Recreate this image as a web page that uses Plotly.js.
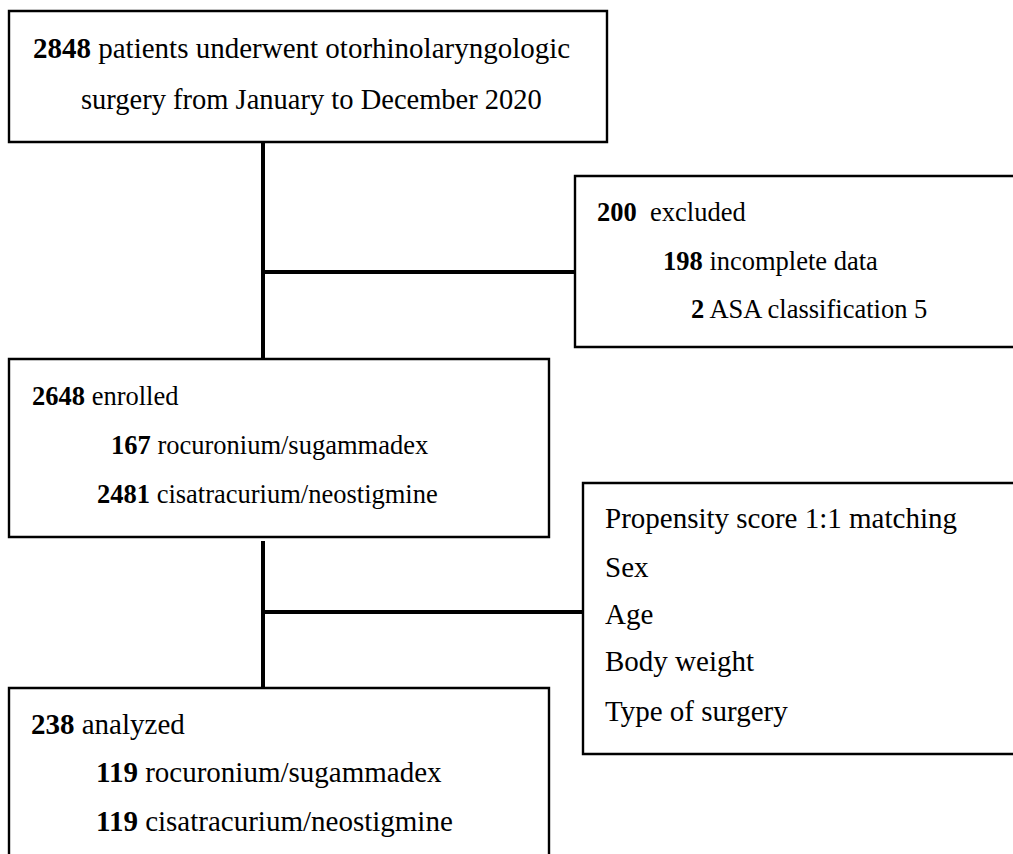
<!DOCTYPE html>
<html>
<head>
<meta charset="utf-8">
<script src="https://cdn.plot.ly/plotly-3.0.1.min.js"></script>
<style>html,body{margin:0;padding:0;background:#fff;}#chart{width:1013px;height:854px;}</style>
</head>
<body>
<div id="chart"></div>
<script>
// ---- Flowchart content ----
const screenedCount = [2848];
const screenedLabels = ["patients underwent otorhinolaryngologic", "surgery from January to December 2020"];
const excludedCounts = [200, 198, 2];
const excludedLabels = ["excluded", "incomplete data", "ASA classification 5"];
const enrolledCounts = [2648, 167, 2481];
const enrolledLabels = ["enrolled", "rocuronium/sugammadex", "cisatracurium/neostigmine"];
const matchingLabels = ["Propensity score 1:1 matching", "Sex", "Age", "Body weight", "Type of surgery"];
const analyzedCounts = [238, 119, 119];
const analyzedLabels = ["analyzed", "rocuronium/sugammadex", "cisatracurium/neostigmine"];

const FONT = "'Liberation Serif', 'Times New Roman', serif";
const boxLine = {color: '#000', width: 2.4};
const connLine = {color: '#000', width: 4};

function box(x0, y0, x1, y1) {
  return {type: 'rect', xref: 'x', yref: 'y', x0: x0, y0: y0, x1: x1, y1: y1, line: boxLine, fillcolor: 'rgba(0,0,0,0)', layer: 'above'};
}
function seg(x0, y0, x1, y1) {
  return {type: 'line', xref: 'x', yref: 'y', x0: x0, y0: y0, x1: x1, y1: y1, line: connLine, layer: 'above'};
}
function txt(x, y, text, size) {
  return {xref: 'x', yref: 'y', x: x, y: y, text: text, showarrow: false, xanchor: 'left', yanchor: 'middle',
          align: 'left', font: {family: FONT, size: size, color: '#000'}, borderpad: 0};
}
const nb = '\u00a0';

const shapes = [
  box(9, 11, 607, 142),
  box(575, 176, 1030, 347),
  box(9, 359, 549, 537),
  box(583, 483, 1030, 754),
  box(9, 688, 549, 880),
  seg(263, 142, 263, 359),
  seg(263, 272, 575, 272),
  seg(263, 541, 263, 688),
  seg(263, 612, 583, 612)
];

const annotations = [];
// Box 1
annotations.push(txt(32, 48, '<b>' + screenedCount[0] + '</b> ' + screenedLabels[0], 29));
annotations.push(txt(80, 99, screenedLabels[1], 28.5));
// Box 2
const exX = [596, 662, 690], exY = [212, 261, 309];
excludedCounts.forEach((c, i) => {
  annotations.push(txt(exX[i], exY[i], '<b>' + c + '</b>' + (i === 0 ? nb + nb : ' ') + excludedLabels[i], 26.5));
});
// Box 3
const enX = [31, 110, 96], enY = [396, 445, 494];
enrolledCounts.forEach((c, i) => {
  annotations.push(txt(enX[i], enY[i], '<b>' + c + '</b> ' + enrolledLabels[i], 26.5));
});
// Box 4
const maY = [518, 567, 614, 661, 711];
matchingLabels.forEach((l, i) => {
  annotations.push(txt(604, maY[i], l, 29));
});
// Box 5
const anX = [30, 95, 95], anY = [724, 772, 821];
analyzedCounts.forEach((c, i) => {
  annotations.push(txt(anX[i], anY[i], '<b>' + c + '</b> ' + analyzedLabels[i], 29));
});

const layout = {
  width: 1013, height: 854,
  margin: {l: 0, r: 0, t: 0, b: 0, pad: 0},
  paper_bgcolor: '#fff', plot_bgcolor: '#fff',
  xaxis: {range: [0, 1013], visible: false, fixedrange: true},
  yaxis: {range: [854, 0], visible: false, fixedrange: true},
  showlegend: false,
  shapes: shapes,
  annotations: annotations
};

Plotly.newPlot('chart', [], layout, {staticPlot: true, displayModeBar: false});
</script>
</body>
</html>
